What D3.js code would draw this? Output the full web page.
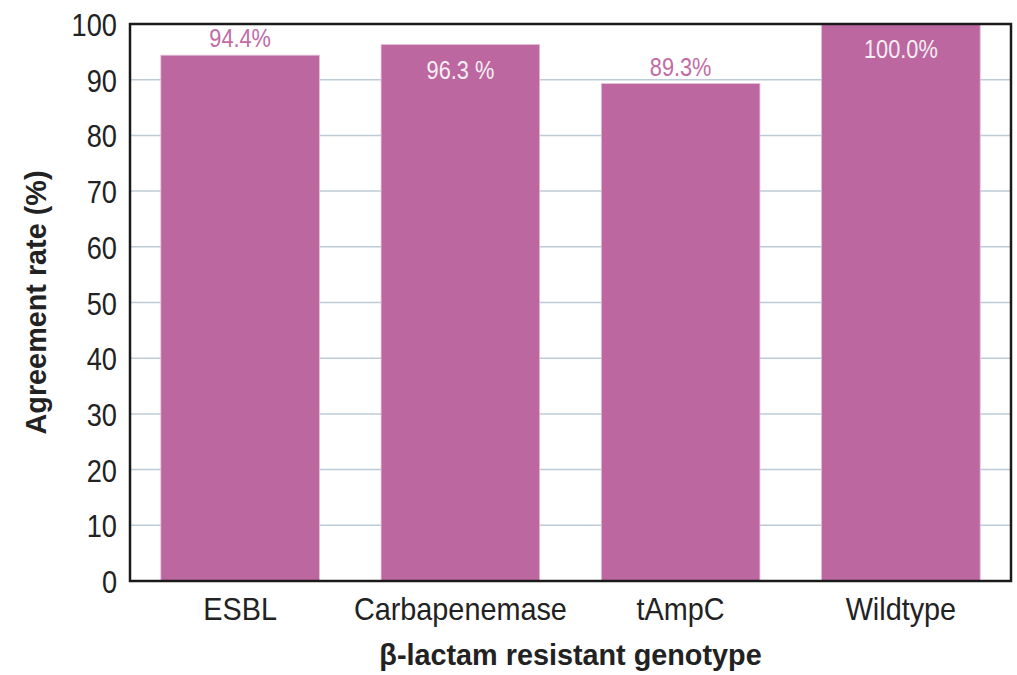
<!DOCTYPE html>
<html>
<head>
<meta charset="utf-8">
<script src="https://cdn.jsdelivr.net/npm/d3@7"></script>
<style>
  body { margin: 0; background: #fff; }
  text { font-family: "Liberation Sans", Arial, sans-serif; }
</style>
</head>
<body>
<div id="chart"></div>
<script>
// 데이터
const genotypes = ["ESBL", "Carbapenemase", "tAmpC", "Wildtype"];
const agreement = [94.4, 96.3, 89.3, 100.0];
const valueLabels = ["94.4%", "96.3 %", "89.3%", "100.0%"];
const yTicks = [0, 10, 20, 30, 40, 50, 60, 70, 80, 90, 100];

const width = 1017, height = 675;
const margin = { top: 24, right: 6, bottom: 94, left: 130 };
const barColor = "#bd67a0";
const inkColor = "#222";

const svg = d3.select("#chart")
  .append("svg")
  .attr("width", width)
  .attr("height", height);

const x = d3.scaleBand()
  .domain(genotypes)
  .range([margin.left, width - margin.right])
  .paddingInner(0.28)
  .paddingOuter(0.14);

const y = d3.scaleLinear()
  .domain([0, 100])
  .range([height - margin.bottom, margin.top]);

// 그리드
svg.append("g")
  .selectAll("line")
  .data(yTicks.filter(d => d > 0 && d < 100))
  .join("line")
  .attr("x1", margin.left)
  .attr("x2", width - margin.right)
  .attr("y1", d => y(d))
  .attr("y2", d => y(d))
  .attr("stroke", "#bccbd6")
  .attr("stroke-width", 1.5);

// 막대
svg.append("g")
  .selectAll("rect")
  .data(agreement)
  .join("rect")
  .attr("x", (d, i) => x(genotypes[i]))
  .attr("y", d => y(d))
  .attr("width", x.bandwidth())
  .attr("height", d => y(0) - y(d))
  .attr("fill", barColor)
  .attr("stroke", "#e6bcd8")
  .attr("stroke-width", 0.8);

// 값 라벨 (95 넘으면 막대 안쪽 흰색)
svg.append("g")
  .selectAll("text")
  .data(agreement)
  .join("text")
  .attr("transform", (d, i) => {
    const cx = x(genotypes[i]) + x.bandwidth() / 2;
    const cy = d > 95 ? y(d) + 34 : y(d) - 8;
    return `translate(${cx},${cy}) scale(0.87,1)`;
  })
  .attr("text-anchor", "middle")
  .attr("font-size", 25)
  .attr("fill", d => d > 95 ? "#f8eef4" : "#c26ba5")
  .text((d, i) => valueLabels[i]);

// 테두리
const frame = svg.append("rect")
  .attr("x", margin.left)
  .attr("y", margin.top)
  .attr("width", width - margin.left - margin.right)
  .attr("height", height - margin.top - margin.bottom)
  .attr("fill", "none")
  .attr("stroke", "#1a1a1a")
  .attr("stroke-width", 2.5);

// 축
const yAxis = svg.append("g")
  .attr("transform", `translate(${margin.left},0)`)
  .call(d3.axisLeft(y).tickValues(yTicks).tickSize(0).tickPadding(13));
yAxis.select(".domain").remove();
yAxis.selectAll("text")
  .attr("font-size", 32)
  .attr("fill", inkColor)
  .attr("x", -13 / 0.85)
  .attr("dy", "0.36em")
  .attr("transform", "scale(0.85,1)");

const xAxis = svg.append("g")
  .attr("transform", `translate(0,${height - margin.bottom})`)
  .call(d3.axisBottom(x).tickSize(0).tickPadding(39));
xAxis.select(".domain").remove();
xAxis.selectAll(".tick text")
  .attr("font-size", 32)
  .attr("fill", inkColor)
  .attr("dy", "0")
  .attr("transform", "scale(0.9,1)");

// 축 제목
svg.append("text")
  .attr("transform", `translate(${(margin.left + width - margin.right) / 2},665) scale(0.96,1)`)
  .attr("text-anchor", "middle")
  .attr("font-size", 30)
  .attr("font-weight", "bold")
  .attr("fill", inkColor)
  .text("β-lactam resistant genotype");

svg.append("text")
  .attr("transform", `translate(46,${(margin.top + height - margin.bottom) / 2}) rotate(-90) scale(0.96,1)`)
  .attr("text-anchor", "middle")
  .attr("font-size", 30)
  .attr("font-weight", "bold")
  .attr("fill", inkColor)
  .text("Agreement rate (%)");

frame.raise();
</script>
</body>
</html>
